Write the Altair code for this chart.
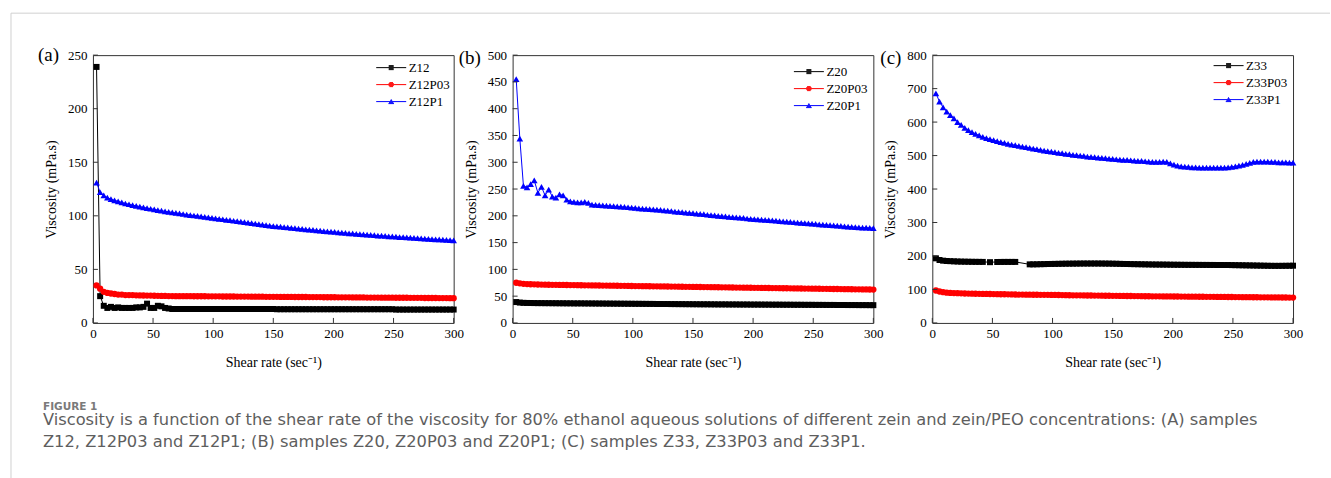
import altair as alt
import pandas as pd

# ---------------- data ----------------
SHEAR = list(range(3, 301, 3))          # shear-rate sampling grid (sec^-1)
XTICKS = [0, 50, 100, 150, 200, 250, 300]

NAMES_A = ["Z12", "Z12P03", "Z12P1"]
Z12 = [239, 25, 16, 14, 15, 14, 14.5, 14, 14, 14,
       14, 14.5, 14.5, 15, 18, 14, 14, 16, 15.5, 14,
       13.5, 13, 13, 13, 13, 13, 13, 13, 13, 13,
       13, 13, 13, 13, 13, 13, 13, 13, 13, 13,
       13, 13, 13, 13, 13, 13, 13, 13, 13, 13,
       12.8, 12.8, 12.8, 12.8, 12.8, 12.8, 12.8, 12.8, 12.8, 12.8,
       12.8, 12.8, 12.8, 12.8, 12.8, 12.8, 12.8, 12.8, 12.8, 12.8,
       12.8, 12.8, 12.8, 12.8, 12.8, 12.8, 12.8, 12.8, 12.8, 12.8,
       12.8, 12.8, 12.8, 12.5, 12.5, 12.5, 12.5, 12.5, 12.5, 12.5,
       12.5, 12.5, 12.5, 12.5, 12.5, 12.5, 12.5, 12.5, 12.5, 12.5]
Z12P03 = [35, 32, 29, 28, 27.5, 27, 26.5, 26.5, 26, 26,
          26, 25.8, 25.7, 25.6, 25.5, 25.5, 25.4, 25.3, 25.2, 25.2,
          25.1, 25.1, 25, 25, 25, 25, 25, 24.9, 24.9, 24.9,
          24.9, 24.8, 24.8, 24.8, 24.8, 24.7, 24.7, 24.7, 24.7, 24.6,
          24.6, 24.6, 24.6, 24.5, 24.5, 24.5, 24.5, 24.4, 24.4, 24.4,
          24.4, 24.3, 24.3, 24.3, 24.3, 24.2, 24.2, 24.2, 24.2, 24.1,
          24.1, 24.1, 24.1, 24, 24, 24, 24, 23.9, 23.9, 23.9,
          23.9, 23.8, 23.8, 23.8, 23.8, 23.7, 23.7, 23.7, 23.7, 23.6,
          23.6, 23.6, 23.6, 23.5, 23.5, 23.5, 23.5, 23.4, 23.4, 23.4,
          23.4, 23.3, 23.3, 23.3, 23.3, 23.2, 23.2, 23.2, 23.1, 23.1]
Z12P1 = [131, 122, 119, 117, 115.5, 114.5, 113.5, 112.5, 111.5, 110.8,
         110, 109.3, 108.6, 107.9, 107.2, 106.6, 106, 105.4, 104.8, 104.2,
         103.7, 103.2, 102.7, 102.2, 101.7, 101.2, 100.7, 100.3, 99.9, 99.5,
         99.0, 98.6, 98.1, 97.7, 97.2, 96.8, 96.3, 95.9, 95.4, 95.0,
         94.5, 94.1, 93.6, 93.2, 92.7, 92.3, 91.8, 91.4, 90.9, 90.4,
         90.1, 89.8, 89.4, 89.1, 88.8, 88.4, 88.1, 87.8, 87.4, 87.1,
         86.8, 86.5, 86.1, 85.8, 85.5, 85.2, 84.9, 84.6, 84.3, 84.0,
         83.7, 83.5, 83.2, 82.9, 82.7, 82.4, 82.1, 81.9, 81.6, 81.4,
         81.2, 80.9, 80.7, 80.5, 80.2, 80.0, 79.8, 79.6, 79.3, 79.1,
         78.9, 78.7, 78.5, 78.3, 78.1, 77.9, 77.7, 77.5, 77.3, 77.1]

NAMES_B = ["Z20", "Z20P03", "Z20P1"]
Z20 = [39, 38, 37.5, 37.3, 37.2, 37.1, 37, 37, 36.9, 36.9,
       36.8, 36.8, 36.7, 36.7, 36.6, 36.6, 36.5, 36.5, 36.5, 36.4,
       36.4, 36.3, 36.3, 36.2, 36.2, 36.1, 36.1, 36.0, 36.0, 35.9,
       35.9, 35.8, 35.8, 35.7, 35.7, 35.6, 35.6, 35.5, 35.5, 35.4,
       35.4, 35.3, 35.3, 35.2, 35.2, 35.1, 35.1, 35.0, 35.0, 34.9,
       34.9, 34.8, 34.8, 34.8, 34.7, 34.7, 34.6, 34.6, 34.6, 34.5,
       34.5, 34.5, 34.4, 34.4, 34.4, 34.3, 34.3, 34.3, 34.2, 34.2,
       34.2, 34.1, 34.1, 34.1, 34.0, 34.0, 34.0, 33.9, 33.9, 33.9,
       33.8, 33.8, 33.8, 33.7, 33.7, 33.7, 33.6, 33.6, 33.6, 33.5,
       33.5, 33.5, 33.4, 33.4, 33.4, 33.3, 33.3, 33.3, 33.2, 33.2]
Z20P03 = [75, 74, 73, 72.5, 72.2, 72, 71.8, 71.6, 71.4, 71.3,
          71.2, 71.1, 71.0, 70.9, 70.8, 70.7, 70.6, 70.5, 70.4, 70.3,
          70.2, 70.1, 70.0, 69.9, 69.8, 69.7, 69.6, 69.5, 69.4, 69.3,
          69.2, 69.1, 69.0, 68.9, 68.8, 68.7, 68.6, 68.5, 68.4, 68.3,
          68.2, 68.1, 68.0, 67.9, 67.8, 67.7, 67.6, 67.5, 67.4, 67.3,
          67.2, 67.1, 67.0, 66.9, 66.8, 66.7, 66.6, 66.5, 66.4, 66.3,
          66.2, 66.1, 66.0, 65.9, 65.8, 65.7, 65.6, 65.5, 65.4, 65.3,
          65.2, 65.1, 65.0, 64.9, 64.8, 64.7, 64.6, 64.5, 64.4, 64.3,
          64.2, 64.1, 64.0, 63.9, 63.8, 63.7, 63.6, 63.5, 63.4, 63.3,
          63.2, 63.1, 63.0, 62.9, 62.8, 62.7, 62.6, 62.5, 62.4, 62.3]
Z20P1 = [455, 344, 256, 253, 259, 266, 243, 254, 238, 249,
         236, 234, 240, 238, 230, 227, 226, 225, 225, 226,
         224, 221, 220.5, 220, 219.5, 219, 218.5, 218, 217.5, 217,
         216.5, 216, 215.5, 215, 214, 213.5, 213, 212.5, 212, 211.5,
         211, 210, 209.5, 209, 208, 207.5, 207, 206, 205.5, 205,
         204, 203.5, 203, 202, 201.5, 201, 200, 199.5, 199, 198,
         197.5, 197, 196.5, 196, 195, 194.5, 194, 193.5, 193, 192.5,
         192, 191.5, 191, 190, 189.5, 189, 188.5, 188, 187.5, 187,
         186.5, 186, 185.5, 185, 184, 183.5, 183, 182.5, 182, 181.5,
         181, 180.5, 180, 179.5, 179, 178.5, 178, 178, 177.5, 177]

NAMES_C = ["Z33", "Z33P03", "Z33P1"]
Z33 = [193, 188, 186, 185, 184.5, 184, 183.5, 183.2, 183, 182.8,
       182.6, 182.5, 182.4, 182.3, None, 181.5, None, 182, 182.2, 182.3,
       182.3, 182.3, 182.3, None, None, None, 175, 175, 175.2, 175.5,
       175.7, 176, 176.2, 176.4, 176.6, 176.8, 177, 177.1, 177.2, 177.3,
       177.4, 177.5, 177.5, 177.5, 177.5, 177.5, 177.4, 177.3, 177.2, 177,
       176.8, 176.5, 176.2, 176, 175.8, 175.6, 175.4, 175.2, 175, 174.8,
       174.6, 174.5, 174.4, 174.3, 174.2, 174, 173.9, 173.8, 173.7, 173.6,
       173.5, 173.5, 173.4, 173.4, 173.3, 173.3, 173.2, 173.2, 173.1, 173.1,
       173, 173, 172.8, 172.6, 172.4, 172.2, 172, 171.8, 171.6, 171.4,
       171.2, 171, 170.8, 170.6, 170.5, 170.5, 170.6, 170.7, 170.8, 171]
Z33P03 = [97, 94, 92, 90.5, 89.8, 89.2, 88.8, 88.4, 88, 87.7,
          87.4, 87.2, 87, 86.8, 86.6, 86.4, 86.2, 86, 85.8, 85.6,
          85.4, 85.2, 85, 84.8, 84.6, 84.5, 84.4, 84.3, 84.2, 84.1,
          84, 83.9, 83.8, 83.6, 83.4, 83.2, 83, 82.8, 82.6, 82.5,
          82.4, 82.2, 82, 81.9, 81.8, 81.6, 81.4, 81.3, 81.2, 81,
          80.9, 80.8, 80.6, 80.5, 80.4, 80.2, 80.1, 80, 79.8, 79.7,
          79.6, 79.5, 79.4, 79.3, 79.2, 79.1, 79, 78.9, 78.8, 78.7,
          78.6, 78.5, 78.4, 78.3, 78.2, 78.1, 78, 77.9, 77.8, 77.7,
          77.6, 77.5, 77.4, 77.3, 77.2, 77.1, 77, 76.9, 76.8, 76.7,
          76.6, 76.5, 76.4, 76.3, 76.2, 76.1, 76, 75.9, 75.8, 75.7]
Z33P1 = [686, 661, 644, 631, 621, 611, 600, 592, 583, 576,
         570, 565, 560, 556, 552, 549, 546, 543, 540, 538,
         535, 533, 531, 529, 527, 525, 523, 521, 519, 517,
         515, 513, 512, 510, 508, 507, 505, 504, 502, 501,
         500, 499, 497, 496, 495, 494, 493, 492, 491, 490,
         489, 488, 487, 487, 486, 485, 484, 484, 483, 482,
         481, 481, 481, 482, 481, 477, 473, 470, 468, 467,
         466, 465, 465, 464, 464, 464, 464, 464, 464, 464,
         464, 465, 466, 468, 470, 472, 475, 478, 481, 482,
         482, 482, 482, 481, 481, 480, 480, 480, 479, 479]

YTICKS_A = [0, 50, 100, 150, 200, 250]
YTICKS_B = [0, 50, 100, 150, 200, 250, 300, 350, 400, 450, 500]
YTICKS_C = [0, 100, 200, 300, 400, 500, 600, 700, 800]

X_TITLE = "Shear rate (sec\u207b\u00b9)"
Y_TITLE = "Viscosity (mPa.s)"

CAPTION_HEAD = "FIGURE 1"
CAPTION_LINE1 = ("Viscosity is a function of the shear rate of the viscosity for 80% ethanol aqueous "
                 "solutions of different zein and zein/PEO concentrations: (A) samples")
CAPTION_LINE2 = "Z12, Z12P03 and Z12P1; (B) samples Z20, Z20P03 and Z20P1; (C) samples Z33, Z33P03 and Z33P1."

# ---------------- style ----------------
COLORS = ["#000000", "#ff0000", "#0000ff"]
SHAPES = ["square", "circle", "triangle-up"]
SIZES = [36, 44, 56]
SERIF = "Liberation Serif"
CAP_FONT = "DejaVu Sans"
FRAME = "#333333"
GRAY_FRAME = "#d0d0d0"
W, H = 361, 268

# legend glyphs: a line with a marker drawn from 1px strokes (so only stroke colour is needed)
SQ = "M-3,0H3M-0.5,-0.4H0.5M-0.5,-0.2H0.5M-0.5,0.2H0.5M-0.5,0.4H0.5"
CI = "M-3,0H3M-0.36,-0.4H0.36M-0.52,-0.2H0.52M-0.52,0.2H0.52M-0.36,0.4H0.36"
TR = "M-3,0H3M-0.08,-0.4H0.08M-0.2,-0.2H0.2M-0.44,0.2H0.44M-0.56,0.4H0.56"
SHAPE_EXPR = (f"indexof(datum.value,'P1')>=0 ? '{TR}' : "
              f"(indexof(datum.value,'P0')>=0 ? '{CI}' : '{SQ}')")


def decorations():
    """Page frame and figure caption, positioned relative to panel (a)."""
    base = alt.Chart(pd.DataFrame({"a": [0]}))
    top = base.mark_rule(color=GRAY_FRAME, strokeWidth=1).encode(
        x=alt.value(-82), x2=alt.value(1238), y=alt.value(-42))
    left = base.mark_rule(color=GRAY_FRAME, strokeWidth=1).encode(
        x=alt.value(-82), y=alt.value(-42), y2=alt.value(424))
    head = base.mark_text(align="left", baseline="alphabetic", font=CAP_FONT, fontSize=10.5,
                          fontWeight="bold", color="#7a7a7a").encode(
        x=alt.value(-50), y=alt.value(355), text=alt.value(CAPTION_HEAD))
    l1 = base.mark_text(align="left", baseline="alphabetic", font=CAP_FONT, fontSize=16.3,
                        color="#5e5e5e").encode(
        x=alt.value(-50), y=alt.value(370), text=alt.value(CAPTION_LINE1))
    l2 = base.mark_text(align="left", baseline="alphabetic", font=CAP_FONT, fontSize=16.3,
                        color="#5e5e5e").encode(
        x=alt.value(-50), y=alt.value(392.5), text=alt.value(CAPTION_LINE2))
    return [top, left, head, l1, l2]


def panel(tag, names, series, ymax, yticks, lx, ly, tdx, tdy, extra=()):
    markers = ["m_" + n for n in names]   # separate domain so marker scales never join the legend
    recs = []
    for name, mk, vals in zip(names, markers, series):
        for s, v in zip(SHEAR, vals):
            if v is not None:
                recs.append({"shear": s, "visc": v, "sample": name, "marker": mk})
    df = pd.DataFrame(recs)

    xsc = alt.Scale(domain=[0, 300], nice=False, zero=False)
    ysc = alt.Scale(domain=[0, ymax], nice=False)
    xax = alt.Axis(values=XTICKS, title=X_TITLE, labelPadding=5, titlePadding=15)
    yax = alt.Axis(values=yticks, title=Y_TITLE, labelPadding=6, titlePadding=9)
    X = alt.X("shear:Q", scale=xsc, axis=xax)
    Y = alt.Y("visc:Q", scale=ysc, axis=yax)

    leg = alt.Legend(
        title=None, orient="none", legendX=lx, legendY=ly, padding=0,
        symbolSize=100, labelOffset=11, rowPadding=3,
        labelFont=SERIF, labelFontSize=13, labelColor="#000",
        symbolType={"expr": SHAPE_EXPR}, symbolStrokeWidth=1, symbolOpacity=1,
    )
    base = alt.Chart(df)
    line = base.mark_line(strokeWidth=1).encode(
        x=X, y=Y, color=alt.Color("sample:N", scale=alt.Scale(domain=names, range=COLORS), legend=leg))
    pts = base.mark_point(filled=True, opacity=1).encode(
        x=X, y=Y,
        fill=alt.Fill("marker:N", scale=alt.Scale(domain=markers, range=COLORS), legend=None),
        shape=alt.Shape("marker:N", scale=alt.Scale(domain=markers, range=SHAPES), legend=None),
        size=alt.Size("marker:O", scale=alt.Scale(domain=markers, range=SIZES), legend=None),
    )
    xt = alt.Chart(pd.DataFrame({"shear": XTICKS})).mark_rule(color=FRAME, strokeWidth=1).encode(
        x=X, y=alt.value(H), y2=alt.value(H - 5))
    yt = alt.Chart(pd.DataFrame({"visc": yticks})).mark_rule(color=FRAME, strokeWidth=1).encode(
        y=Y, x=alt.value(0), x2=alt.value(5))

    return alt.layer(line, pts, xt, yt, *extra).properties(
        width=W, height=H,
        title=alt.TitleParams(tag, anchor="start", frame="group", orient="top", offset=0,
                              dx=tdx, dy=tdy, baseline="middle", font=SERIF, fontSize=19,
                              fontWeight="normal", color="#000"),
    )


pa = panel("(a)", NAMES_A, [Z12, Z12P03, Z12P1], 250, YTICKS_A, 292, 6, -55, 61, decorations())
pb = panel("(b)", NAMES_B, [Z20, Z20P03, Z20P1], 500, YTICKS_B, 290, 10, -54, 27.5)
pc = panel("(c)", NAMES_C, [Z33, Z33P03, Z33P1], 800, YTICKS_C, 290, 4, -52, 27.5)

chart = alt.hconcat(pa, pb, pc, spacing=59, bounds="flush").resolve_scale(
    color="independent", fill="independent", shape="independent", size="independent",
).properties(
    padding={"left": 10, "top": 12, "right": 0, "bottom": 0},
    background="white",
).configure_view(
    stroke=FRAME, strokeWidth=1,
).configure_axis(
    labelFont=SERIF, labelFontSize=13, labelColor="#000",
    titleFont=SERIF, titleFontSize=14, titleFontWeight="normal", titleColor="#000",
    grid=False, domain=False, ticks=False, tickSize=0, labelFlush=False,
)

chart.save("out.html", embed_options={"renderer": "svg", "actions": False})
